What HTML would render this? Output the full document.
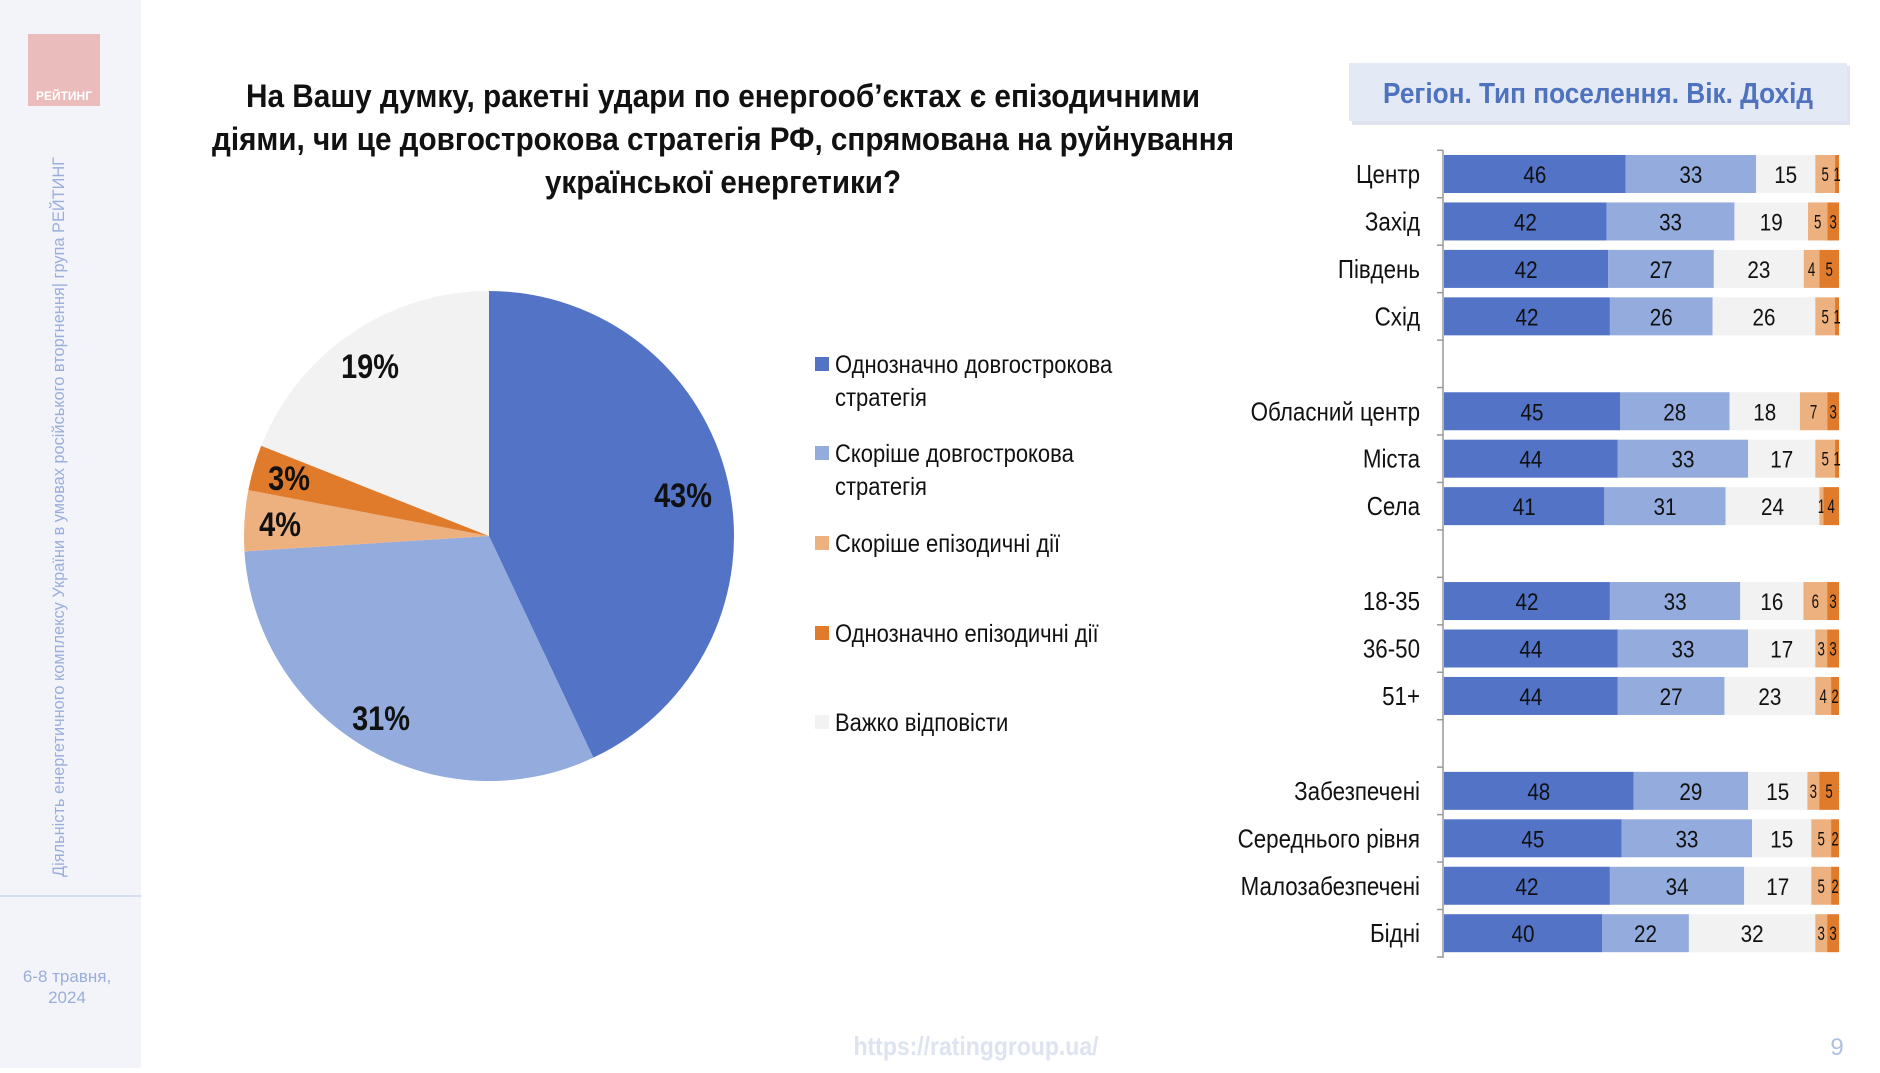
<!DOCTYPE html>
<html><head><meta charset="utf-8"><style>
body{margin:0;width:1880px;height:1068px;overflow:hidden;background:#fff;}
svg text{font-family:"Liberation Sans",sans-serif;}
</style></head><body>
<svg id="s" width="1880" height="1068" viewBox="0 0 1880 1068">
<rect x="0" y="0" width="141" height="1068" fill="#f2f4fa"/>
<g><rect x="28" y="34" width="72" height="72" fill="#ebbcbc"/><text x="64" y="100" font-size="12" font-weight="bold" fill="#fff" text-anchor="middle">РЕЙТИНГ</text></g>
<text transform="translate(64,517) rotate(-90)" text-anchor="middle" font-size="17" fill="#9aaedc" textLength="720" lengthAdjust="spacingAndGlyphs">Діяльність енергетичного комплексу України в умовах російського вторгнення| група РЕЙТИНГ</text>
<line x1="0" y1="896" x2="141" y2="896" stroke="#d5def0" stroke-width="2"/>
<text x="67" y="982" text-anchor="middle" font-size="17" fill="#9aaedc">6-8 травня,</text>
<text x="67" y="1003" text-anchor="middle" font-size="17" fill="#9aaedc">2024</text>
<g font-size="32" font-weight="bold" fill="#111">
<text x="246" y="107" textLength="954" lengthAdjust="spacingAndGlyphs">На Вашу думку, ракетні удари по енергооб’єктах є епізодичними</text>
<text x="212" y="150" textLength="1022" lengthAdjust="spacingAndGlyphs">діями, чи це довгострокова стратегія РФ, спрямована на руйнування</text>
<text x="545" y="193" textLength="356" lengthAdjust="spacingAndGlyphs">української енергетики?</text></g>
<g id="pie"></g>
<g id="legend"></g>
<rect x="1352" y="66" width="498" height="59" fill="#c9d2e6" opacity="0.6"/>
<rect x="1349" y="63" width="498" height="58" fill="#e3e9f5"/>
<text x="1383" y="103" font-size="29" font-weight="bold" fill="#4f72be" textLength="430" lengthAdjust="spacingAndGlyphs">Регіон. Тип поселення. Вік. Дохід</text>
<g id="bars"></g>
<text x="976" y="1055" text-anchor="middle" font-size="26" font-weight="bold" fill="#dde3f0" textLength="245" lengthAdjust="spacingAndGlyphs">https://ratinggroup.ua/</text>
<text x="1837" y="1055" text-anchor="middle" font-size="24" fill="#b0c0e0">9</text>
</svg>
<script>
const pieLabels=["Однозначно довгострокова стратегія","Скоріше довгострокова стратегія","Скоріше епізодичні дії","Однозначно епізодичні дії","Важко відповісти"];
const pieValues=[43,31,4,3,19];
const colors=["#5273c6","#93abdd","#edb07f","#e07b2b","#f2f2f2"];
const barCats=["Центр","Захід","Південь","Схід","","Обласний центр","Міста","Села","","18-35","36-50","51+","","Забезпечені","Середнього рівня","Малозабезпечені","Бідні"];
const s1=[46,42,42,42,null,45,44,41,null,42,44,44,null,48,45,42,40];
const s2=[33,33,27,26,null,28,33,31,null,33,33,27,null,29,33,34,22];
const s3=[15,19,23,26,null,18,17,24,null,16,17,23,null,15,15,17,32];
const s4=[5,5,4,5,null,7,5,1,null,6,3,4,null,3,5,5,3];
const s5=[1,3,5,1,null,3,1,4,null,3,3,2,null,5,2,2,3];
const barColors=["#5273c6","#93abdd","#f2f2f2","#edb07f","#e07b2b"];
const NS="http://www.w3.org/2000/svg";
function mk(t,a,p){const e=document.createElementNS(NS,t);for(const k in a)e.setAttribute(k,a[k]);p.appendChild(e);return e;}
function ntext(p,x,y,str,size,anchor,sx){const g=mk('g',{transform:`translate(${x},${y}) scale(${sx},1)`},p);const t=mk('text',{x:0,y:0,'font-size':size,'text-anchor':anchor,fill:'#111'},g);t.textContent=str;return g;}
// pie
const pie=document.getElementById('pie');const cx=489,cy=536,R=245;
const tot=pieValues.reduce((a,b)=>a+b,0);let acc=0;
const labPos=[[683,495],[381,718],[280,524],[289,478],[370,366]];
pieValues.forEach((v,i)=>{const a0=acc/tot*2*Math.PI;acc+=v;const a1=acc/tot*2*Math.PI;
const x0=cx+R*Math.sin(a0),y0=cy-R*Math.cos(a0),x1=cx+R*Math.sin(a1),y1=cy-R*Math.cos(a1);
const p=mk('path',{d:`M${cx},${cy}L${x0},${y0}A${R},${R} 0 ${a1-a0>Math.PI?1:0} 1 ${x1},${y1}Z`,fill:colors[i]},pie);


const g=mk('g',{transform:`translate(${labPos[i][0]},${labPos[i][1]+12}) scale(0.85,1)`},pie);
const t=mk('text',{x:0,y:0,'text-anchor':'middle','font-size':34,'font-weight':'bold',fill:'#111'},g);
t.textContent=v+'%';

});
// legend
const lg=document.getElementById('legend');
const lgY=[373,462,552,642,731];
pieLabels.forEach((l,i)=>{const g=mk('g',{},lg);


mk('rect',{x:815,y:lgY[i]-16,width:14,height:14,fill:colors[i]},g);
const parts=i<2?[l.split(' ').slice(0,-1).join(' '),l.split(' ').slice(-1)[0]]:[l];
parts.forEach((p,j)=>{ntext(g,835,lgY[i]+j*33,p,25,'start',0.88);});});
// bars
const bg=document.getElementById('bars');const ax=1443,W=395,bh=38;
const rowY=i=>174+i*47.45;
mk('line',{x1:ax,y1:150,x2:ax,y2:958,stroke:'#999','stroke-width':1.5},bg);
for(let i=0;i<=barCats.length;i++){mk('line',{x1:ax-6,y1:rowY(i)-23.7,x2:ax,y2:rowY(i)-23.7,stroke:'#999','stroke-width':1.5},bg);}
const series=[s1,s2,s3,s4,s5];
barCats.forEach((c,i)=>{if(!c)return;const y=rowY(i);
const lt=ntext(bg,1420,y+9,c,26,'end',0.86);


const sum=series.reduce((a,s)=>a+s[i],0);const sc=W/sum;
let x=ax+1;series.forEach((s,k)=>{const v=s[i];const w=v*sc;
const r=mk('rect',{x:x,y:y-bh/2,width:w,height:bh,fill:barColors[k]},bg);


const small=v<10;const t=ntext(bg,x+w/2,y+(small?7:9),String(v),small?19:24,'middle',small?0.7:0.86);


x+=w;});});
</script>
</body></html>
